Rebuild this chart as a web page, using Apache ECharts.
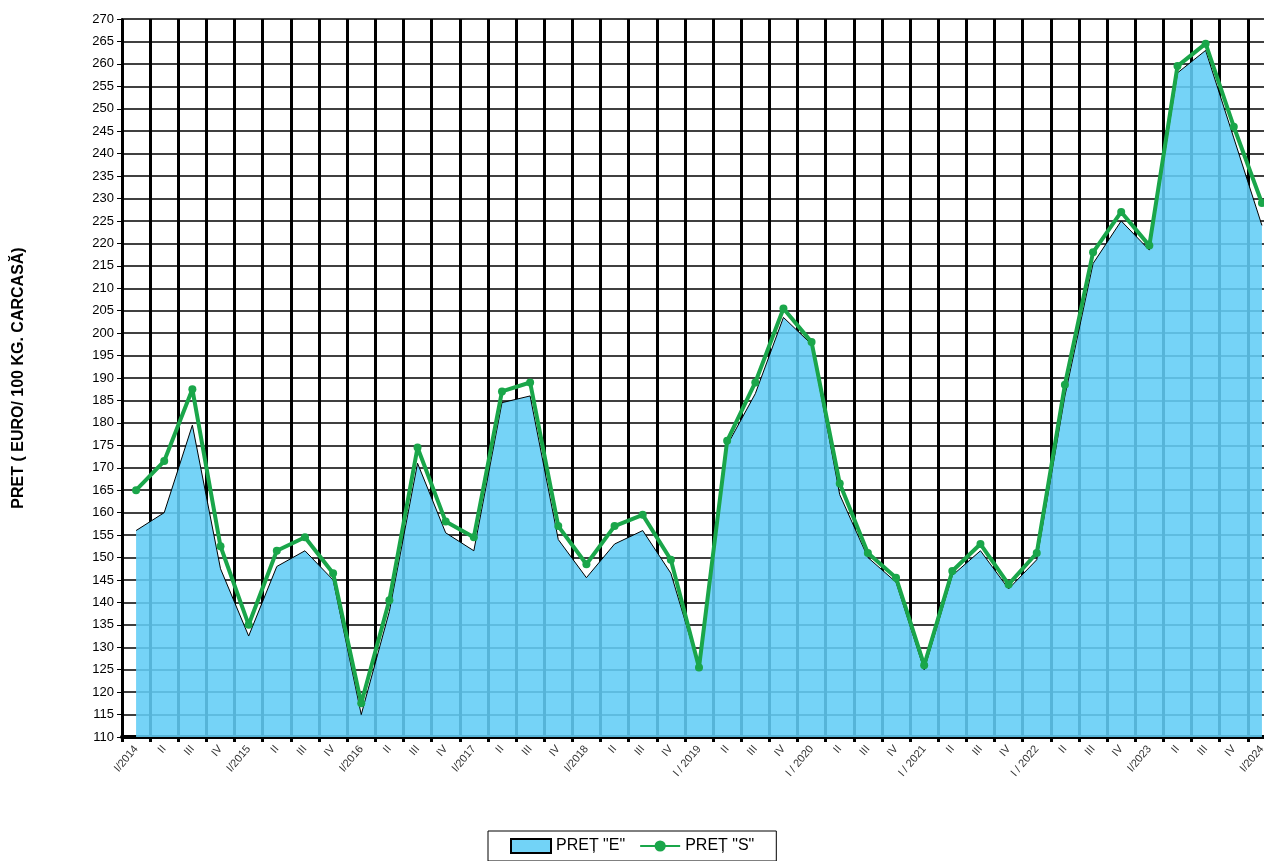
<!DOCTYPE html>
<html lang="ro">
<head>
<meta charset="UTF-8">
<title>Pret</title>
<script src="https://cdn.jsdelivr.net/npm/echarts@6/dist/echarts.min.js"></script>
<style>html,body{margin:0;background:#fff;overflow:hidden}#c{width:1276px;height:861px}</style>
</head>
<body>
<div id="c"></div>
<script>
// trimestre
var quarters = ['I/2014','II','III','IV','I/2015','II','III','IV','I/2016','II','III','IV',
  'I/2017','II','III','IV','I/2018','II','III','IV','I / 2019','II','III','IV',
  'I / 2020','II','III','IV','I / 2021','II','III','IV','I / 2022','II','III','IV',
  'I/2023','II','III','IV','I/2024'];
// pret "E"
var pretE = [156,160,179.5,147.5,132.5,148,151.5,145,115,138,171,155.5,
  151.5,184.5,186,154,145.5,153,156,146.5,125.5,175,186.5,203.5,
  197.5,164,150,144.5,125,146,151.5,143,149.5,186,215.5,225,
  218.5,258,263,243.5,224];
// pret "S"
var pretS = [165,171.5,187.5,152.5,135,151.5,154.5,146.5,117.5,140.5,174.5,158,
  154.5,187,189,157,148.5,157,159.5,149.5,125.5,176,189,205.5,
  198,166.5,151,145.5,126,147,153,144,151,188.5,218,227,
  219.5,259.5,264.5,246,229];

var chart = echarts.init(document.getElementById('c'));
chart.setOption({
  animation: false,
  grid: {left: 122, right: 0, top: 19, bottom: 124},
  legend: {
    bottom: 0, left: 488, borderColor: '#000', borderWidth: 1, padding: [7, 22],
    itemGap: 14, itemWidth: 40, textStyle: {fontFamily: 'Liberation Sans', fontSize: 16, color: '#000'},
    data: [{name: 'PREȚ "E"', icon: 'rect'}, {name: 'PREȚ "S"'}]
  },
  xAxis: {
    type: 'category', data: quarters, boundaryGap: true,
    axisLine: {lineStyle: {color: '#000', width: 4}},
    axisTick: {show: true, length: 5, lineStyle: {color: '#000', width: 3}},
    axisLabel: {rotate: 50, interval: 0, fontFamily: 'Liberation Sans', fontSize: 11, color: '#333', margin: 10},
    splitLine: {show: true, lineStyle: {color: '#000', width: 3}}
  },
  yAxis: {
    type: 'value', min: 110, max: 270, interval: 5,
    name: 'PRET ( EURO/ 100 KG. CARCASĂ)', nameLocation: 'middle', nameGap: 95,
    nameTextStyle: {fontFamily: 'Liberation Sans', fontWeight: 'bold', fontSize: 16, color: '#000'},
    axisLine: {show: true, lineStyle: {color: '#000', width: 2}},
    axisTick: {show: true, length: 5, lineStyle: {color: '#000'}},
    axisLabel: {fontFamily: 'Liberation Sans', fontSize: 13, color: '#000'},
    splitLine: {lineStyle: {color: '#000', width: 1.5}}
  },
  series: [
    {
      name: 'PREȚ "E"', type: 'line', data: pretE, symbol: 'none',
      itemStyle: {color: '#72d3f7', borderColor: '#000', borderWidth: 1},
      lineStyle: {color: '#000', width: 1},
      areaStyle: {color: '#62cdf6', opacity: 0.88, origin: 'start'},
      z: 2
    },
    {
      name: 'PREȚ "S"', type: 'line', data: pretS, symbol: 'circle', symbolSize: 8,
      itemStyle: {color: '#1aa64a'}, lineStyle: {color: '#1aa64a', width: 4},
      z: 3
    }
  ]
});
</script>
</body>
</html>
